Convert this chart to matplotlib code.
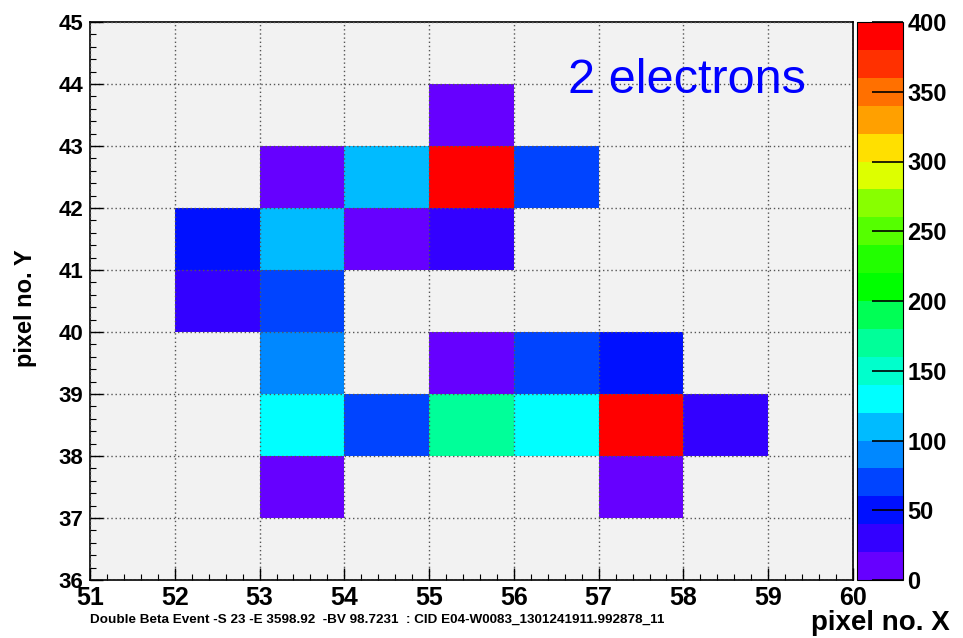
import numpy as np
import matplotlib
matplotlib.use("Agg")
from matplotlib import pyplot as plt
from matplotlib.colors import ListedColormap, BoundaryNorm
from matplotlib.ticker import MultipleLocator

# pixel hits: lower-left corner of each pixel and its charge
cell_x = [55, 53, 54, 55, 56, 52, 53, 54, 55, 52, 53, 53, 55, 56, 57, 53, 54, 55, 56, 57, 58, 53, 57]
cell_y = [43, 42, 42, 42, 42, 41, 41, 41, 41, 40, 40, 39, 39, 39, 39, 38, 38, 38, 38, 38, 38, 37, 37]
cell_val = [10, 10, 110, 395, 70, 50, 110, 10, 30, 30, 70, 90, 10, 70, 50, 130, 70, 170, 130, 395, 30, 10, 10]

x_edges = np.arange(51, 61)
y_edges = np.arange(36, 46)
levels = np.arange(0, 420, 20)
palette = ["#6600ff", "#3300ff", "#0010ff", "#0044ff", "#0088ff", "#00bbff", "#00ffff",
           "#00ffcc", "#00ff99", "#00ff55", "#00ff00", "#22ff00", "#55ff00", "#88ff00",
           "#ddff00", "#ffe000", "#ffa000", "#ff7000", "#ff3000", "#ff0000"]

grid = np.zeros((len(y_edges) - 1, len(x_edges) - 1))
for x, y, v in zip(cell_x, cell_y, cell_val):
    grid[y - 36, x - 51] = v
grid = np.ma.masked_equal(grid, 0)

cmap = ListedColormap(palette)
norm = BoundaryNorm(levels, cmap.N)

fig = plt.figure(figsize=(9.63, 6.38), dpi=100)
ax = fig.add_axes([90 / 963, 58 / 638, 763 / 963, 558 / 638])
cax = fig.add_axes([857 / 963, 58 / 638, 46 / 963, 558 / 638])

ax.set_facecolor("#f2f2f2")
mesh = ax.pcolormesh(x_edges, y_edges, grid, cmap=cmap, norm=norm)
ax.set_xlim(51, 60)
ax.set_ylim(36, 45)
ax.xaxis.set_major_locator(MultipleLocator(1))
ax.yaxis.set_major_locator(MultipleLocator(1))
ax.xaxis.set_minor_locator(MultipleLocator(0.2))
ax.yaxis.set_minor_locator(MultipleLocator(0.2))
ax.set_axisbelow(False)
ax.grid(True, which="major", linestyle=(0, (1, 2)), color="#555555", linewidth=1.0)
ax.tick_params(which="major", direction="in", length=9, width=1, labelsize=16, pad=5)
ax.tick_params(axis="x", which="major", labelsize=18, pad=4)
ax.tick_params(which="minor", direction="in", length=4, width=0.8)
for lab in ax.get_xticklabels() + ax.get_yticklabels():
    lab.set_fontweight("bold")
    lab.set_family("Liberation Sans")
for sp in ax.spines.values():
    sp.set_linewidth(1.2)

ax.text(0.938, 0.895, "2 electrons", transform=ax.transAxes, color="#0000ff",
        fontsize=35, family="Liberation Sans", ha="right", va="center")

fig.text(14 / 963, 1 - 308 / 638, "pixel no. Y", rotation=90, fontsize=17, fontweight="bold",
         family="Liberation Sans", ha="left", va="center")
fig.text(950 / 963, 1 - 623 / 638, "pixel no. X", fontsize=20, fontweight="bold",
         family="Liberation Sans", ha="right", va="center")
fig.text(90 / 963, 1 - 620 / 638,
         "Double Beta Event -S 23 -E 3598.92  -BV 98.7231  : CID E04-W0083_1301241911.992878_11",
         fontsize=9.7, fontweight="bold", family="Liberation Sans", ha="left", va="center")

cb = fig.colorbar(mesh, cax=cax, ticks=np.arange(0, 450, 50))
cb.outline.set_linewidth(0.8)
cax.yaxis.set_ticks_position("right")
cax.tick_params(direction="in", length=22, width=1.2, labelsize=17, pad=3)
cax.minorticks_off()
for lab in cax.get_yticklabels():
    lab.set_fontweight("bold")
    lab.set_family("Liberation Sans")

fig.savefig("out.png", dpi=100)
